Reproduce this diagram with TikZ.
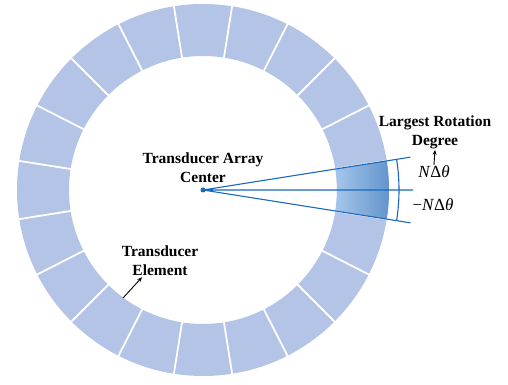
\documentclass[tikz,border=0pt]{standalone}
\usepackage{fontspec}
\setmainfont{Liberation Serif}
\usetikzlibrary{arrows.meta}
\definecolor{ringblue}{RGB}{180,196,230}
\definecolor{lineblue}{RGB}{25,105,190}
\definecolor{shadelight}{RGB}{165,198,234}
\definecolor{shadedark}{RGB}{98,148,204}
\tikzset{
  lbl/.style={font=\bfseries\fontsize{15.5}{19}\selectfont, align=center, inner sep=1pt},
  ang/.style={font=\fontsize{17}{20}\selectfont, inner sep=1pt},
  pointer/.style={-{Stealth[length=5pt, width=4pt]}, line width=0.9pt}
}
\begin{document}
\begin{tikzpicture}[x=1pt, y=1pt]
  \useasboundingbox (-203,-195) rectangle (305,190);
  % ring of elements
  \fill[ringblue, even odd rule] (0,0) circle (186) (0,0) circle (134);
  \foreach \a in {9,27,...,351}
    \draw[white, line width=1.8pt] (\a:133) -- (\a:187);
  \shade[left color=shadelight, right color=shadedark]
    (-9:134) arc (-9:9:134) -- (9:186) arc (9:-9:186) -- cycle;
  % rotation lines
  \coordinate (c) at (0,0);
  \coordinate (up) at (9:210);
  \coordinate (mid) at (0:210);
  \coordinate (dn) at (-9:210);
  \draw[lineblue, line width=1.1pt] (c) -- (up) (c) -- (mid) (c) -- (dn);
  \draw[lineblue, line width=1.1pt] (-9:196) arc (-9:9:196);
  \fill[lineblue] (c) circle (2.5);
  % labels
  \node[lbl] (ctr) at (0,22) {Transducer Array\\Center};
  \node[lbl] (rot) at (232,58) {Largest Rotation\\Degree};
  \node[ang] (pos) at (231,18) {\textit{N}Δ\textit{θ}};
  \node[ang] (neg) at (230,-15) {−\textit{N}Δ\textit{θ}};
  \node[lbl] (elem) at (-43,-71) {Transducer\\Element};
  \coordinate (tail) at (-80,-108);
  \draw[pointer] (pos.north) -- (rot.south);
  \draw[pointer] (tail) -- (elem.222);
\end{tikzpicture}
\end{document}
